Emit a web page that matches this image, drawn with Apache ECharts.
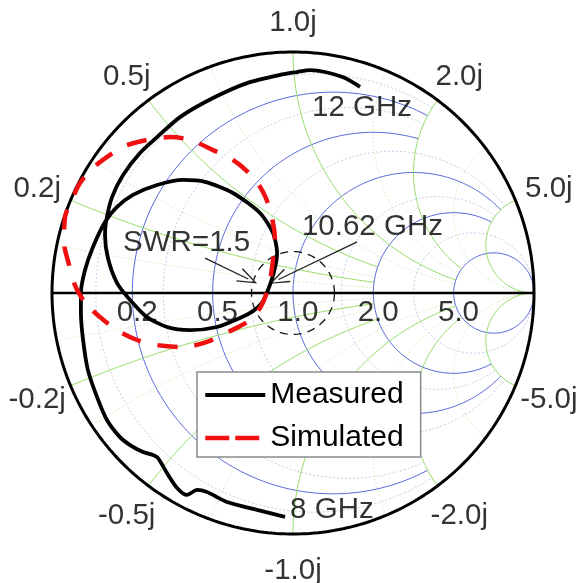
<!DOCTYPE html>
<html><head><meta charset="utf-8">
<script src="https://cdn.jsdelivr.net/npm/echarts@6/dist/echarts.min.js"></script>
<style>html,body{margin:0;padding:0;background:#fff}#c{width:585px;height:583px}</style>
</head><body><div id="c"></div>
<script>
// ---- tick values / labels ----
const resistanceTicks = [0.2, 0.5, 1, 2, 5];
const resistanceLabels = ['0.2', '0.5', '1.0', '2.0', '5.0'];
const resistanceStops = [2, 2, 5, 5, Infinity];      // |x| at which each r circle ends
const reactanceTicks = [0.2, 0.5, 1, 2, 5];
const reactanceLabels = ['0.2j', '0.5j', '1.0j', '2.0j', '5.0j'];
const reactanceNegLabels = ['-0.2j', '-0.5j', '-1.0j', '-2.0j', '-5.0j'];
const reactanceStops = [2, 2, 5, 5, Infinity];       // r at which each x arc ends
const minorTicks = [0.1, 0.3, 0.7, 1.5, 3];
const minorStops = [2, 2, 5, 5, Infinity];
const swrGamma = 0.172; // radius of SWR circle as drawn

// ---- data (reflection coefficient, re / im) ----
const measured = [[-0.033,-0.929],[-0.149,-0.900],[-0.274,-0.867],[-0.357,-0.826],[-0.398,-0.817],[-0.440,-0.838],[-0.481,-0.809],[-0.523,-0.747],[-0.560,-0.685],[-0.581,-0.672],[-0.622,-0.660],[-0.676,-0.631],[-0.718,-0.598],[-0.772,-0.527],[-0.813,-0.432],[-0.851,-0.320],[-0.871,-0.195],[-0.880,-0.083],[-0.880,0.000],[-0.863,0.095],[-0.830,0.191],[-0.780,0.295],[-0.730,0.357],[-0.664,0.407],[-0.564,0.448],[-0.456,0.469],[-0.365,0.461],[-0.249,0.415],[-0.137,0.332],[-0.083,0.249],[-0.066,0.166],[-0.079,0.087],[-0.104,0.012],[-0.129,-0.041],[-0.166,-0.075],[-0.220,-0.104],[-0.315,-0.141],[-0.427,-0.154],[-0.523,-0.141],[-0.606,-0.100],[-0.676,-0.029],[-0.730,0.041],[-0.768,0.145],[-0.780,0.241],[-0.776,0.295],[-0.751,0.398],[-0.705,0.490],[-0.635,0.581],[-0.564,0.647],[-0.469,0.730],[-0.332,0.809],[-0.191,0.871],[-0.054,0.905],[0.017,0.917],[0.071,0.925],[0.133,0.917],[0.216,0.892],[0.278,0.855]];
const simulated = [[-0.871,-0.029],[-0.905,0.033],[-0.929,0.116],[-0.950,0.212],[-0.946,0.315],[-0.917,0.386],[-0.884,0.456],[-0.830,0.519],[-0.759,0.573],[-0.697,0.610],[-0.606,0.635],[-0.510,0.647],[-0.427,0.635],[-0.332,0.593],[-0.249,0.552],[-0.166,0.481],[-0.116,0.402],[-0.087,0.311],[-0.075,0.220],[-0.083,0.137],[-0.095,0.054],[-0.112,-0.008],[-0.137,-0.062],[-0.178,-0.112],[-0.261,-0.158],[-0.357,-0.203],[-0.456,-0.224],[-0.564,-0.216],[-0.647,-0.195],[-0.730,-0.154],[-0.801,-0.100],[-0.851,-0.054]];

const FONT = '"Liberation Sans", Arial, sans-serif';

// ---- grid geometry helpers (derived from tick values) ----
function gammaOf(r, x) {
  const d = (r + 1) * (r + 1) + x * x;
  return [(r * r - 1 + x * x) / d, (2 * x) / d];
}
function rCircle(r, xStop) {
  const c = r / (1 + r), rho = 1 / (1 + r);
  let a0 = 0;
  if (isFinite(xStop)) { const g = gammaOf(r, xStop); a0 = Math.atan2(g[1], g[0] - c); }
  const pts = [], N = 200;
  for (let i = 0; i <= N; i++) {
    const a = a0 + (2 * Math.PI - 2 * a0) * i / N;
    pts.push([c + rho * Math.cos(a), rho * Math.sin(a)]);
  }
  return pts;
}
function xArc(x, rStop, sign) {
  const cy = 1 / x, rho = 1 / x;
  const g0 = gammaOf(0, x);
  const g1 = isFinite(rStop) ? gammaOf(rStop, x) : [1, 0];
  let b0 = Math.atan2(g0[1] - cy, g0[0] - 1); if (b0 > 0) b0 -= 2 * Math.PI;
  let b1 = Math.atan2(g1[1] - cy, g1[0] - 1); if (b1 > 0) b1 -= 2 * Math.PI;
  const pts = [], N = 160;
  for (let i = 0; i <= N; i++) {
    const b = b0 + (b1 - b0) * i / N;
    pts.push([1 + rho * Math.cos(b), sign * (cy + rho * Math.sin(b))]);
  }
  return pts;
}
function circle(rad) {
  const pts = [];
  for (let i = 0; i <= 360; i++) { const a = i * Math.PI / 180; pts.push([rad * Math.cos(a), rad * Math.sin(a)]); }
  return pts;
}
function gridLine(data, color, width, type, z) {
  return { type: 'line', data, showSymbol: false, symbol: 'none', silent: true, clip: false,
    animation: false, z, lineStyle: { color, width, type }, emphasis: { disabled: true } };
}

const series = [];
// minor grid
minorTicks.forEach((v, i) => {
  series.push(gridLine(rCircle(v, minorStops[i]), '#c9cbf0', 1, [2, 2], 1));
  series.push(gridLine(xArc(v, minorStops[i], 1), '#dfeec0', 1, [2, 2], 1));
  series.push(gridLine(xArc(v, minorStops[i], -1), '#dfeec0', 1, [2, 2], 1));
});
// major grid
resistanceTicks.forEach((v, i) => series.push(gridLine(rCircle(v, resistanceStops[i]), '#5868dc', 1, 'solid', 2)));
reactanceTicks.forEach((v, i) => {
  series.push(gridLine(xArc(v, reactanceStops[i], 1), '#96de68', 1, 'solid', 2));
  series.push(gridLine(xArc(v, reactanceStops[i], -1), '#96de68', 1, 'solid', 2));
});
// outline and real axis
series.push(gridLine(circle(1), '#000', 3, 'solid', 3));
series.push(gridLine([[-1, 0], [1, 0]], '#000', 2.5, 'solid', 3));

// SWR circle with arrows
const swr = gridLine(circle(swrGamma), '#111', 1.3, [8, 6], 4);
swr.markLine = {
  silent: true, animation: false,
  symbol: ['none', 'path://M0,0 L7,19 L5.7,19.5 L0,3.2 L-5.7,19.5 L-7,19 Z'],
  symbolSize: [15, 20],
  label: { show: false },
  lineStyle: { color: '#222', width: 1.3, type: 'solid' },
  data: [
    [{ coord: [-0.365, 0.145] }, { coord: [-0.186, 0.058] }],
    [{ coord: [0.266, 0.212] }, { coord: [-0.060, 0.056] }]
  ]
};
series.push(swr);

// data series
series.push({ name: 'Measured', type: 'line', data: measured, symbol: 'none', showSymbol: false, smooth: 0.25,
  clip: false, animation: false, z: 5, lineStyle: { color: '#000', width: 3.8 }, itemStyle: { color: '#000' } });
series.push({ name: 'Simulated', type: 'line', data: simulated, symbol: 'none', showSymbol: false, smooth: 0.3,
  clip: false, animation: false, z: 6, lineStyle: { color: '#f01010', width: 4.5, type: [20, 17] }, itemStyle: { color: '#f01010' } });

// tick labels
const labelData = [];
resistanceTicks.forEach((r, i) => {
  labelData.push({ value: [(r - 1) / (r + 1) + 0.02, -0.083], name: resistanceLabels[i] });
});
reactanceTicks.forEach((x, i) => {
  const g = gammaOf(0, x);
  labelData.push({ value: [g[0] * 1.15, g[1] * 1.12], name: reactanceLabels[i] });
  labelData.push({ value: [g[0] * 1.15, -g[1] * 1.155], name: reactanceNegLabels[i] });
});
series.push({ type: 'scatter', data: labelData, symbolSize: 1, silent: true, animation: false, z: 7, clip: false,
  itemStyle: { color: 'rgba(0,0,0,0)' },
  label: { show: true, position: 'inside', formatter: p => p.name, color: '#000', fontSize: 29.5,
    fontFamily: FONT, align: 'center', verticalAlign: 'middle' } });

// annotations
const notes = [
  { value: [0.079, 0.768], name: '12 GHz' },
  { value: [0.037, 0.274], name: '10.62 GHz' },
  { value: [-0.705, 0.207], name: 'SWR=1.5' },
  { value: [-0.012, -0.900], name: '8 GHz' }
];
series.push({ type: 'scatter', data: notes, symbolSize: 1, silent: true, animation: false, z: 7, clip: false,
  itemStyle: { color: 'rgba(0,0,0,0)' },
  label: { show: true, position: 'inside', formatter: p => p.name, color: '#000', fontSize: 29.5,
    fontFamily: FONT, align: 'left', verticalAlign: 'middle' } });

const chart = echarts.init(document.getElementById('c'), null, { renderer: 'canvas' });
chart.setOption({
  animation: false,
  backgroundColor: '#fff',
  grid: { left: 52, top: 52, width: 482, height: 482, containLabel: false },
  xAxis: { type: 'value', min: -1, max: 1, show: false },
  yAxis: { type: 'value', min: -1, max: 1, show: false },
  legend: {
    data: [
      { name: 'Measured', itemStyle: { opacity: 0 }, lineStyle: { color: '#000', width: 3.8, type: 'solid' } },
      { name: 'Simulated', itemStyle: { opacity: 0 }, lineStyle: { color: '#f01010', width: 4.5, type: [24, 6] } }
    ],
    orient: 'vertical', left: 197, top: 372, padding: [5, 17, 1, 6],
    itemWidth: 60, itemHeight: 14, itemGap: 7,
    backgroundColor: '#fff', borderColor: '#8a8a8a', borderWidth: 1.5, borderRadius: 0,
    textStyle: { color: '#000', fontSize: 30, fontFamily: FONT, lineHeight: 36 },
    selectedMode: false, z: 20
  },
  series
});
</script></body></html>
